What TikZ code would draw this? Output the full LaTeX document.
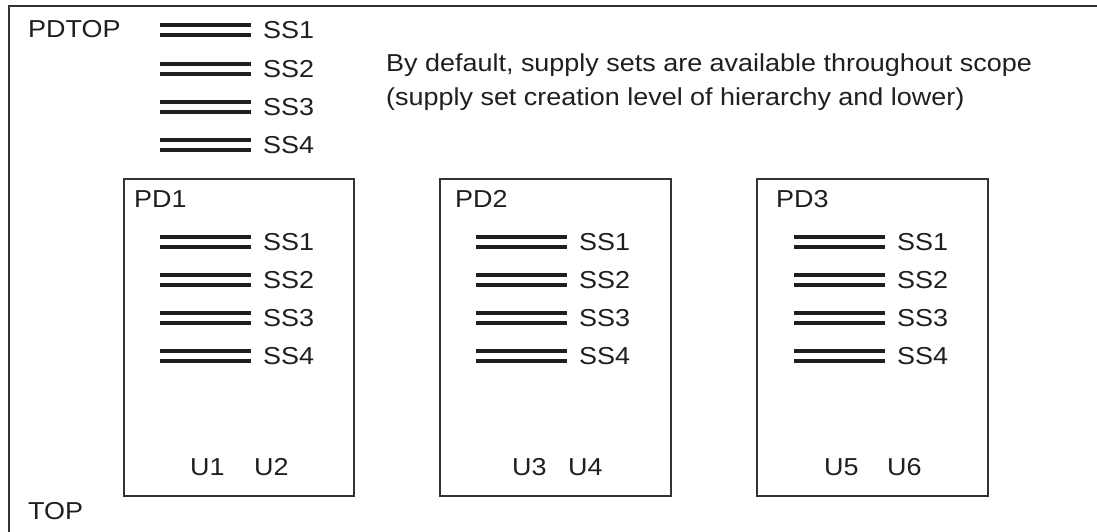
\documentclass[tikz,border=0pt]{standalone}
\usepackage{fontspec}
\setmainfont[FakeStretch=1.1]{Liberation Sans}
\usepackage{tikz}

\tikzset{
  lbl/.style={inner sep=0pt, anchor=west, text=black!88, font=\fontsize{24.5}{28}\selectfont},
  txt/.style={lbl, anchor=base west},
  rail/.style={draw=black!88, line width=3.5pt, double distance=6.5pt},
  pdbox/.style={draw=black!80, line width=1.5pt},
}

\begin{document}
\begin{tikzpicture}[x=1pt,y=-1pt]
\useasboundingbox (0,0) rectangle (1097,532);
\draw[line width=1.5pt, black!80] (9,532) -- (9,6) -- (1097,6);
\node[txt] (pdtop) at (28,38) {PDTOP};
\node[txt] (top) at (28,519) {TOP};
\node[txt] (note1) at (386,72) {By default, supply sets are available throughout scope};
\node[txt] (note2) at (386,106) {(supply set creation level of hierarchy and lower)};

% supply sets of PDTOP
\node[lbl] (tss1) at (263,30) {SS1};
\node[lbl] (tss2) at (263,69) {SS2};
\node[lbl] (tss3) at (263,107) {SS3};
\node[lbl] (tss4) at (263,145) {SS4};
\draw[rail] (160,30) -- ([xshift=-12pt]tss1.west);
\draw[rail] (160,69) -- ([xshift=-12pt]tss2.west);
\draw[rail] (160,107) -- ([xshift=-12pt]tss3.west);
\draw[rail] (160,145) -- ([xshift=-12pt]tss4.west);

% PD1
\draw[pdbox] (124,179) rectangle (354,496);
\node[txt] (pd1) at (134,207) {PD1};
\node[lbl] (ass1) at (263,242) {SS1};
\node[lbl] (ass2) at (263,280) {SS2};
\node[lbl] (ass3) at (263,318) {SS3};
\node[lbl] (ass4) at (263,356) {SS4};
\draw[rail] (160,242) -- ([xshift=-12pt]ass1.west);
\draw[rail] (160,280) -- ([xshift=-12pt]ass2.west);
\draw[rail] (160,318) -- ([xshift=-12pt]ass3.west);
\draw[rail] (160,356) -- ([xshift=-12pt]ass4.west);
\node[txt] (u1) at (190,475) {U1};
\node[txt] (u2) at (254,475) {U2};

% PD2
\draw[pdbox] (440,179) rectangle (671,496);
\node[txt] (pd2) at (455,207) {PD2};
\node[lbl] (bss1) at (579,242) {SS1};
\node[lbl] (bss2) at (579,280) {SS2};
\node[lbl] (bss3) at (579,318) {SS3};
\node[lbl] (bss4) at (579,356) {SS4};
\draw[rail] (476,242) -- ([xshift=-12pt]bss1.west);
\draw[rail] (476,280) -- ([xshift=-12pt]bss2.west);
\draw[rail] (476,318) -- ([xshift=-12pt]bss3.west);
\draw[rail] (476,356) -- ([xshift=-12pt]bss4.west);
\node[txt] (u3) at (512,475) {U3};
\node[txt] (u4) at (568,475) {U4};

% PD3
\draw[pdbox] (757,179) rectangle (988,496);
\node[txt] (pd3) at (776,207) {PD3};
\node[lbl] (css1) at (897,242) {SS1};
\node[lbl] (css2) at (897,280) {SS2};
\node[lbl] (css3) at (897,318) {SS3};
\node[lbl] (css4) at (897,356) {SS4};
\draw[rail] (794,242) -- ([xshift=-12pt]css1.west);
\draw[rail] (794,280) -- ([xshift=-12pt]css2.west);
\draw[rail] (794,318) -- ([xshift=-12pt]css3.west);
\draw[rail] (794,356) -- ([xshift=-12pt]css4.west);
\node[txt] (u5) at (824,475) {U5};
\node[txt] (u6) at (887,475) {U6};
\end{tikzpicture}
\end{document}
